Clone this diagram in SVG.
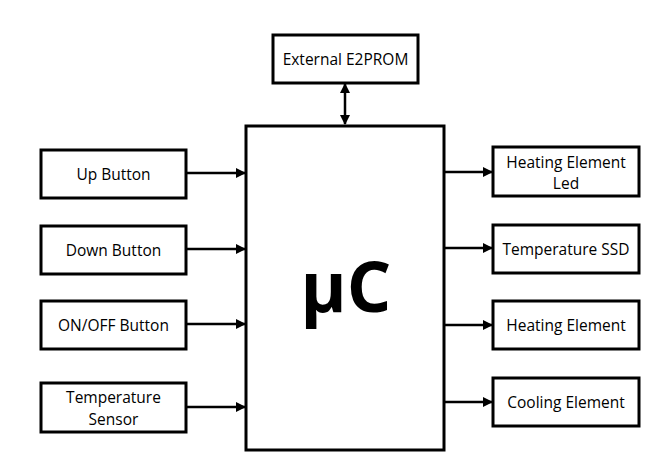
<svg xmlns="http://www.w3.org/2000/svg" width="671" height="464" viewBox="0 0 671 464">
<style>
.box{fill:#fff;stroke:#000;stroke-width:3}
.t{font-family:"Open Sans","Liberation Sans",sans-serif;font-size:15.5px;fill:#000;text-anchor:middle}
.big{font-family:"Open Sans","Liberation Sans",sans-serif;font-size:70px;font-weight:bold;fill:#000;text-anchor:middle}
.c{stroke:#000;stroke-width:2.5;fill:none}
</style>
<defs>
<marker id="ah" viewBox="0 0 10 10" refX="9" refY="5" markerWidth="4" markerHeight="4" orient="auto-start-reverse">
<path d="M0,0 L10,5 L0,10 z" fill="#000"/>
</marker>
</defs>
<rect width="671" height="464" fill="#fff"/>
<g id="connectors">
<line class="c" x1="345" y1="84" x2="345" y2="124" marker-start="url(#ah)" marker-end="url(#ah)"/>
<line class="c" x1="186" y1="173" x2="245" y2="173" marker-end="url(#ah)"/>
<line class="c" x1="186" y1="249" x2="245" y2="249" marker-end="url(#ah)"/>
<line class="c" x1="186" y1="324" x2="245" y2="324" marker-end="url(#ah)"/>
<line class="c" x1="186" y1="407" x2="245" y2="407" marker-end="url(#ah)"/>
<line class="c" x1="444" y1="172" x2="492" y2="172" marker-end="url(#ah)"/>
<line class="c" x1="444" y1="248" x2="492" y2="248" marker-end="url(#ah)"/>
<line class="c" x1="444" y1="325" x2="492" y2="325" marker-end="url(#ah)"/>
<line class="c" x1="444" y1="402" x2="492" y2="402" marker-end="url(#ah)"/>
</g>
<g id="mc"><rect class="box" x="246" y="126" width="198" height="324"/><text class="big" x="346" y="312">μC</text></g>
<g id="e2prom"><rect class="box" x="273" y="35" width="145" height="48"/><text class="t" x="345.5" y="65">External E2PROM</text></g>
<g id="up"><rect class="box" x="41" y="150" width="145" height="48"/><text class="t" x="113.5" y="180">Up Button</text></g>
<g id="down"><rect class="box" x="41" y="226" width="145" height="48"/><text class="t" x="113.5" y="256">Down Button</text></g>
<g id="onoff"><rect class="box" x="41" y="301" width="145" height="48"/><text class="t" x="113.5" y="331">ON/OFF Button</text></g>
<g id="sensor"><rect class="box" x="41" y="383" width="145" height="49"/><text class="t" x="113.5" y="403">Temperature</text><text class="t" x="113.5" y="425">Sensor</text></g>
<g id="heled"><rect class="box" x="493" y="147" width="146" height="49"/><text class="t" x="566" y="168">Heating Element</text><text class="t" x="566" y="189">Led</text></g>
<g id="ssd"><rect class="box" x="493" y="225" width="146" height="48"/><text class="t" x="566" y="255">Temperature SSD</text></g>
<g id="heat"><rect class="box" x="493" y="301" width="146" height="48"/><text class="t" x="566" y="331">Heating Element</text></g>
<g id="cool"><rect class="box" x="493" y="378" width="146" height="48"/><text class="t" x="566" y="408">Cooling Element</text></g>
</svg>
